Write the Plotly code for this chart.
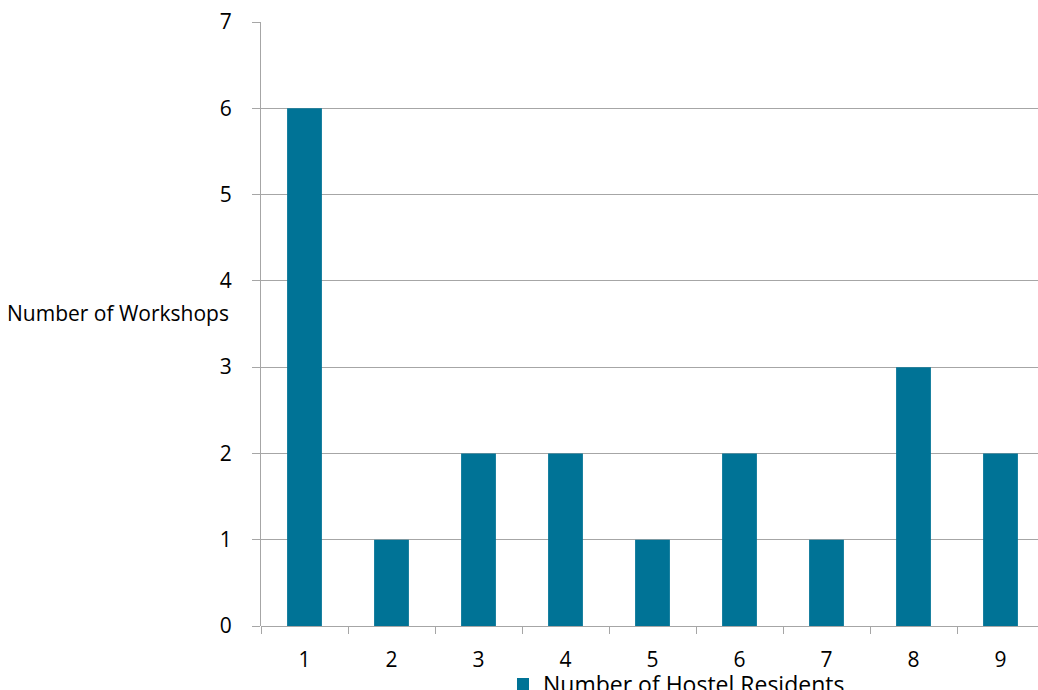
import plotly.graph_objects as go

categories = ["1", "2", "3", "4", "5", "6", "7", "8", "9"]
values = [6, 1, 2, 2, 1, 2, 1, 3, 2]
series_name = "Number of Hostel Residents"
y_title = "Number of Workshops"

W, H = 1038, 690
L, T, B, R = 261, 22, 64, 0
font = "Open Sans, Liberation Sans, sans-serif"
grid = "#a6a6a6"

fig = go.Figure()
fig.add_trace(go.Bar(x=categories, y=values, name=series_name,
                     marker=dict(color="#007396", line=dict(width=0)),
                     showlegend=True))

plot_w = W - L - R
cat_w = 87.0
x_hi = -0.5 + plot_w / cat_w

fig.update_layout(
    width=W, height=H,
    margin=dict(l=L, r=R, t=T, b=B, pad=0, autoexpand=False),
    paper_bgcolor="white", plot_bgcolor="white",
    bargap=0.6,
    font=dict(family=font, size=21, color="#000000"),
    showlegend=True,
    legend=dict(orientation="h", xref="container", x=(503) / W, xanchor="left",
                yref="container", y=1 - 684 / H, yanchor="middle",
                font=dict(size=23), itemwidth=30,
                bgcolor="rgba(0,0,0,0)"),
    xaxis=dict(type="category", range=[-0.5, x_hi], tickson="boundaries",
               ticks="outside", ticklen=7, tickcolor=grid, tickwidth=1,
               showline=False, showgrid=False, zeroline=False,
               tickfont=dict(size=21), ticklabelstandoff=19),
    yaxis=dict(range=[0, 7], dtick=1, ticks="outside", ticklen=8,
               tickcolor=grid, tickwidth=1, showline=True, linecolor=grid,
               linewidth=1, showgrid=True, gridcolor=grid, gridwidth=1,
               zeroline=True, zerolinecolor=grid, zerolinewidth=1,
               tickfont=dict(size=21), ticklabelstandoff=16),
    annotations=[dict(text=y_title, xref="paper", yref="paper",
                      x=-(L - 231) / plot_w, y=(626 - 313) / (H - T - B),
                      xanchor="right", yanchor="middle", showarrow=False,
                      font=dict(size=21, family=font))],
)

fig.write_html("out.html")
